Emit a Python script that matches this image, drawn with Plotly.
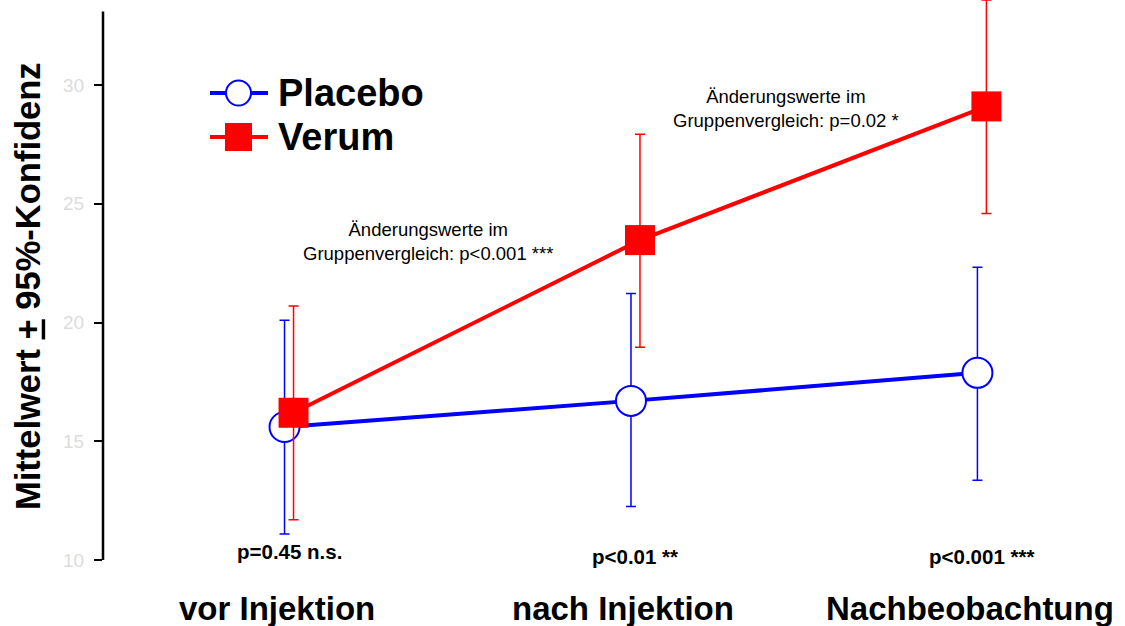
import plotly.graph_objects as go

categories = ["vor Injektion", "nach Injektion", "Nachbeobachtung"]
p_labels = ["p=0.45 n.s.", "p<0.01 **", "p<0.001 ***"]

placebo_mean = [15.6, 16.7, 17.88]
placebo_upper = [20.1, 21.22, 22.33]
placebo_lower = [11.1, 12.25, 13.36]

verum_mean = [16.2, 23.47, 29.1]
verum_upper = [20.7, 27.93, 33.58]
verum_lower = [11.7, 18.96, 24.59]

y_ticks = [10, 15, 20, 25, 30]

FONT = "Liberation Sans, Arial, sans-serif"
BLUE = "#0000ff"
RED = "#ff0000"

pos = list(range(len(categories)))
x_placebo = [i - 0.013 for i in pos]
x_verum = [i + 0.013 for i in pos]


def err(mean, upper, lower):
    return dict(type="data", symmetric=False,
                array=[u - m for u, m in zip(upper, mean)],
                arrayminus=[m - l for m, l in zip(mean, lower)],
                width=5, thickness=1.5)


placebo = go.Scatter(
    name="Placebo", x=x_placebo, y=placebo_mean, mode="lines+markers",
    line=dict(color=BLUE, width=4),
    marker=dict(symbol="circle", size=30, color="white",
                line=dict(color=BLUE, width=2)),
    error_y=dict(color=BLUE, **err(placebo_mean, placebo_upper, placebo_lower)),
    cliponaxis=False)

verum = go.Scatter(
    name="Verum", x=x_verum, y=verum_mean, mode="lines+markers",
    line=dict(color=RED, width=4),
    marker=dict(symbol="square", size=30, color=RED, line=dict(width=0)),
    error_y=dict(color=RED, **err(verum_mean, verum_upper, verum_lower)),
    cliponaxis=False)

fig = go.Figure(data=[placebo, verum])

annotations = []
# group comparisons below each time point
for i, p in enumerate(p_labels):
    annotations.append(dict(x=i, y=10, xref="x", yref="y", text="<b>%s</b>" % p,
                            showarrow=False, yshift=9 if i == 0 else 4,
                            font=dict(family=FONT, size=20.5, color="black")))
# category labels
for i, c in enumerate(categories):
    annotations.append(dict(x=i - 0.035, y=-0.086, xref="x", yref="paper",
                            yanchor="middle",
                            text="<b>%s</b>" % c, showarrow=False,
                            font=dict(family=FONT, size=33, color="black")))

annotations += [
    dict(x=0.40, y=23.4, xref="x", yref="y", showarrow=False,
         text="Änderungswerte im<br>Gruppenvergleich: p<0.001 ***",
         font=dict(family=FONT, size=18.5, color="black")),
    dict(x=1.434, y=29.0, xref="x", yref="y", showarrow=False,
         text="Änderungswerte im<br>Gruppenvergleich: p=0.02 *",
         font=dict(family=FONT, size=18.5, color="black")),
    dict(x=-0.0735, y=0.489, xref="paper", yref="paper", textangle=-90,
         xanchor="center", yanchor="middle",
         showarrow=False, text="<b>Mittelwert <u>+</u> 95%-Konfidenz</b>",
         font=dict(family=FONT, size=34.5, color="black")),
]

fig.update_layout(
    width=1125, height=626,
    margin=dict(l=103, r=0, t=0, b=66),
    paper_bgcolor="white", plot_bgcolor="white",
    showlegend=False,
    font=dict(family=FONT),
    xaxis=dict(range=[-0.537, 2.413], visible=False),
    yaxis=dict(range=[10, 33.58], tickvals=y_ticks, ticks="outside",
               ticklen=8, tickwidth=2, tickcolor="black", showgrid=False,
               zeroline=False, showline=False, ticklabelstandoff=6,
               tickfont=dict(family=FONT, size=19, color="#dcdcdc")),
)


# legend drawn by hand (paper coords from pixels)
def px(xp):
    return (xp - 103) / 1022


def py(yp):
    return (560 - yp) / 560


legend_rows = [("Placebo", BLUE, 93, "circle"), ("Verum", RED, 137, "square")]
shapes = [dict(type="line", xref="paper", yref="y", x0=0, x1=0, y0=10, y1=33.1,
               line=dict(color="black", width=2.5))]
for name, col, yy, sym in legend_rows:
    shapes.append(dict(type="line", xref="paper", yref="paper",
                       x0=px(210), x1=px(268), y0=py(yy), y1=py(yy),
                       line=dict(color=col, width=4)))
    if sym == "circle":
        shapes.append(dict(type="circle", xref="paper", yref="paper",
                           x0=px(226), x1=px(251), y0=py(yy - 12.5), y1=py(yy + 12.5),
                           fillcolor="white", line=dict(color=col, width=2)))
    else:
        shapes.append(dict(type="rect", xref="paper", yref="paper",
                           x0=px(225), x1=px(252), y0=py(yy - 14), y1=py(yy + 14),
                           fillcolor=col, line=dict(width=0)))
    annotations.append(dict(x=px(276), y=py(yy), xref="paper", yref="paper",
                            xanchor="left", yanchor="middle", showarrow=False,
                            text="<b>%s</b>" % name,
                            font=dict(family=FONT, size=38, color="black")))

fig.update_layout(annotations=annotations, shapes=shapes)

fig.write_html("out.html", config={"displayModeBar": False},
               post_script="document.body.style.margin='0';")
